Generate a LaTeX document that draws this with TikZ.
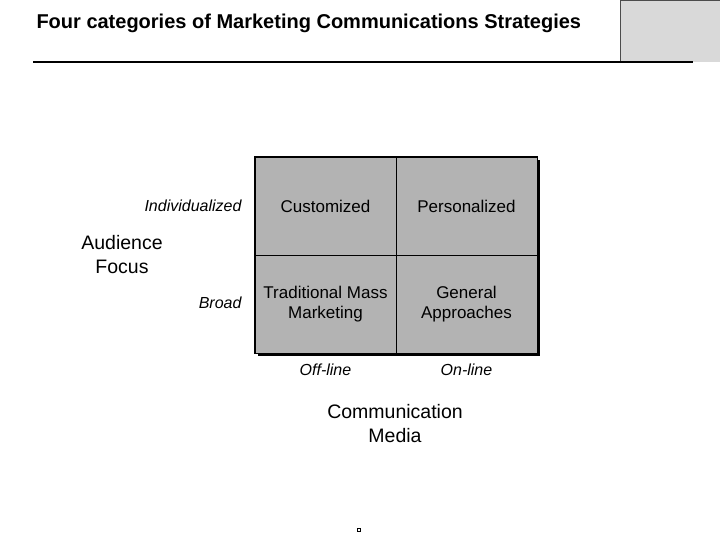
\documentclass[tikz,border=0pt]{standalone}
\usepackage{fontspec}
\setmainfont{Liberation Sans}
\usepackage{tikz}
\usetikzlibrary{positioning}
\definecolor{cellgray}{RGB}{179,179,179}
\definecolor{boxgray}{RGB}{217,217,217}

\begin{document}
\begin{tikzpicture}[x=1bp, y=-1bp,
    cell/.style={draw, fill=cellgray, line width=0.8bp, minimum width=141bp, minimum height=98bp,
                 align=center, font=\fontsize{17bp}{20bp}\selectfont, inner sep=0pt},
    axislabel/.style={font=\fontsize{16bp}{19bp}\selectfont\itshape},
    axistitle/.style={align=center, font=\fontsize{19.5bp}{24bp}\selectfont}]
    \useasboundingbox[fill=white] (0,0) rectangle (720,540);

    % title bar
    \node[anchor=west, font=\fontsize{20bp}{24bp}\selectfont\bfseries] (title) at (33,23) {Four categories of Marketing Communications Strategies};
    \draw[fill=boxgray, draw=black!70] (620,62) -- (620,0.5) -- (720,0.5) -- (720,62);
    \draw[line width=2.5bp] (33,62) -- (693,62);

    % matrix with shadow
    \fill (258,160) rectangle (540,356);
    \node[cell] (custom) at (325.5,206) {Customized};
    \node[cell] (person) at (466.5,206) {Personalized};
    \node[cell] (mass)   at (325.5,304) {Traditional Mass\\Marketing};
    \node[cell] (general) at (466.5,304) {General\\Approaches};
    \draw[line width=1.2bp] (custom.north west) rectangle (general.south east);

    % axis labels
    \node[axislabel, anchor=east] (indiv) at (245,206) {Individualized};
    \node[axislabel, anchor=east] (broad) at (245,303) {Broad};
    \node[axistitle] (audience) at (122,255) {Audience\\Focus};
    \node[axislabel] (offline) at (325.5,370) {Off-line};
    \node[axislabel] (online) at (466.5,370) {On-line};
    \node[axistitle] (media) at (395,424) {Communication\\Media};

    \node[draw, line width=0.8bp, inner sep=0pt, minimum width=2.5bp, minimum height=3.5bp] (dot) at (359,530) {};
\end{tikzpicture}
\end{document}
